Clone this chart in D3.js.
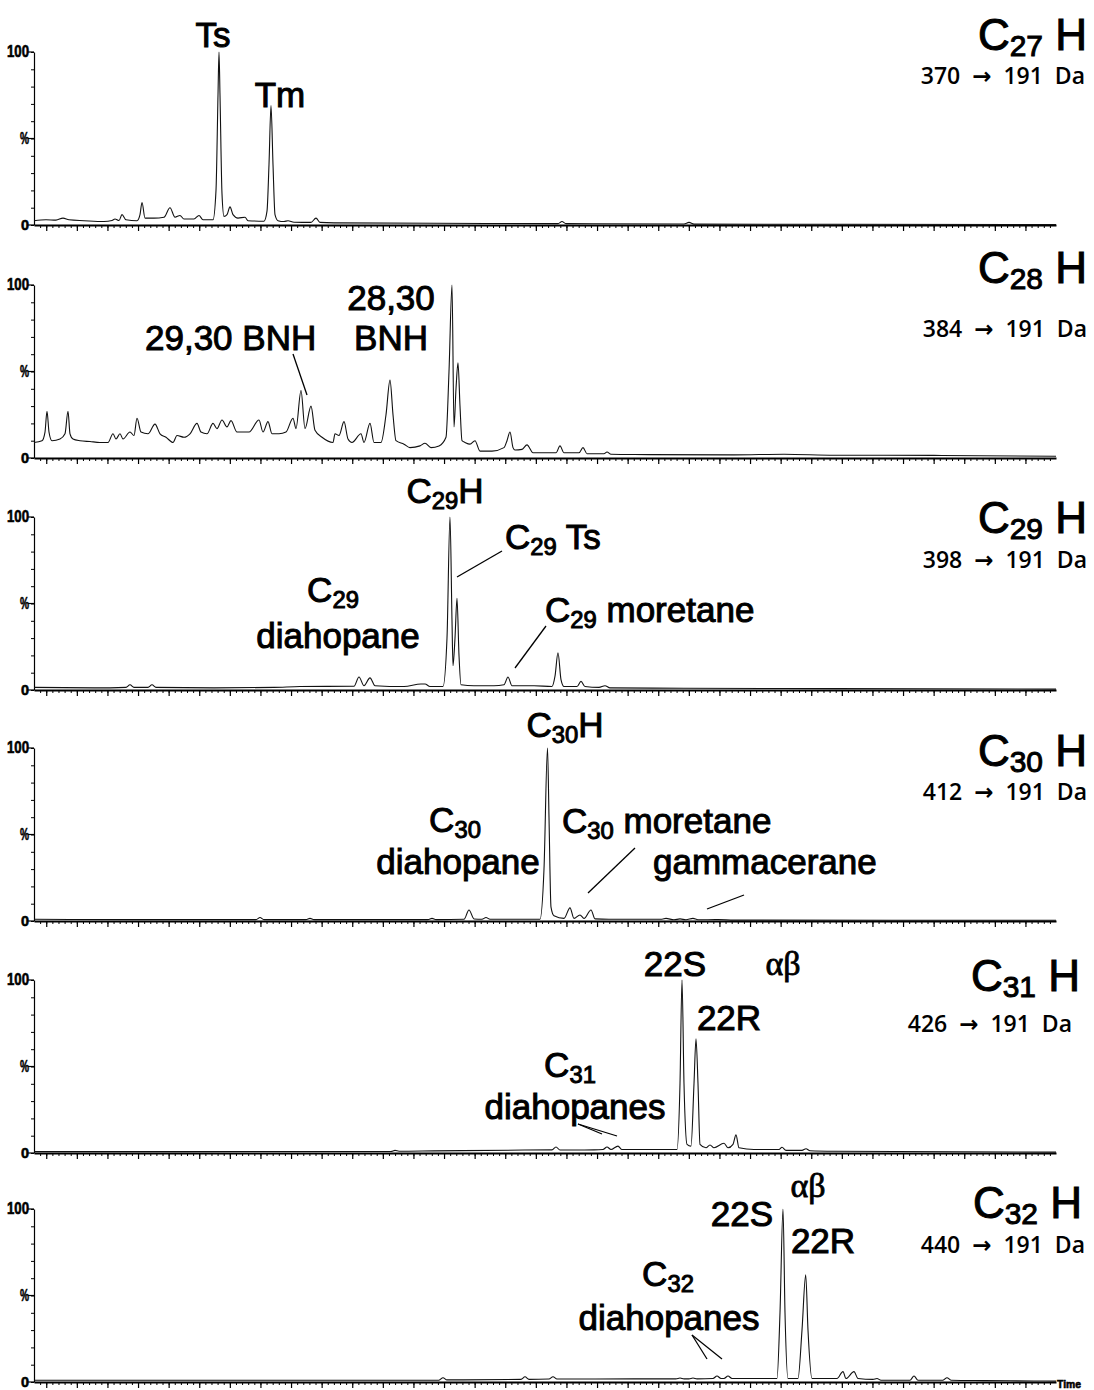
<!DOCTYPE html>
<html><head><meta charset="utf-8">
<script src="https://cdn.jsdelivr.net/npm/d3@7"></script>
<style>
body{margin:0;background:#fff}
svg{display:block}
.lbl{font-family:"Liberation Sans",Arial,sans-serif;fill:#000;stroke:#000;stroke-width:1px}
.mz{font-family:"Open Sans","DejaVu Sans",sans-serif;font-weight:600;fill:#000;white-space:pre}
.axlbl{font-family:"Liberation Sans",Arial,sans-serif;font-weight:bold;fill:#000;stroke:#000;stroke-width:0.6px}
</style>
</head><body>
<svg id="chart" width="1094" height="1390"></svg>
<script>
// Hopane transitions M+ -> m/z 191, one trace per carbon number.
// Each trace: [scan, relative intensity %]
const traceC27 = [[0,2.5],[12,3],[22,2.8],[29,4],[35,3],[50,2.5],[70,2],[78,2.6],[81,3.5],[85,2.6],[88,6],[92,3],[103,2.5],[106,6],[108,13],[111,4],[120,4],[130,4.5],[136,10],[141,4.5],[146,5.5],[150,3.5],[160,3.5],[165,5.5],[169,3],[179,3],[182,20],[184,75],[185,100],[186,75],[188,18],[190,5],[193,6],[196,10.5],[199,6],[204,4],[211,4.5],[214,2.5],[230,2.2],[233,8],[235,35],[237,69],[239,35],[241,6],[244,2.5],[250,2],[254,2.5],[260,1.6],[277,1.5],[282,4],[286,1.5],[300,1.2],[400,1],[524,0.8],[528,2],[532,0.8],[650,0.6],[655,1.5],[660,0.5],[800,0.4],[1022,0.3]];
const traceC28 = [[0,9],[8,10],[11,15],[13,27],[15,15],[18,10],[26,11],[31,14],[34,27],[36,14],[39,11],[46,10],[56,9.5],[66,9],[74,9],[79,14],[82,11],[86,14],[89,11],[96,15],[100,13],[103,23],[107,15],[114,14],[121,19.6],[126,14],[132,12],[139,9],[143,13],[150,12],[156,14],[163,20],[167,15],[173,14],[179,20],[183,17],[188,22],[193,18],[197,21.6],[203,15],[210,15],[215,15],[225,22],[229,15],[234,21],[238,14],[245,14],[252,15],[259,23],[262,17],[267,39],[271,17],[277,30],[281,16],[288,12],[299,9],[301,14],[305,13],[310,21],[314,11],[318,9],[327,14],[330,9],[336,20],[340,9],[347,9],[352,25],[356,45],[359,25],[362,10],[370,8],[376,6],[386,7],[391,8.5],[397,6],[405,7],[412,12],[415,50],[418,100],[420,18],[422,40],[424,55],[426,30],[428,10],[431,9],[436,8],[441,10],[446,4],[458,4],[470,6],[473,10],[476,15],[479,6],[481,4.6],[488,5],[493,7.6],[499,3],[516,3],[522,3],[526,7],[530,3],[545,3],[549,6],[553,2.5],[570,2.5],[573,3.5],[577,2.2],[600,2],[700,1.8],[750,2.2],[800,1.6],[900,1.5],[1022,1]];
const traceC29 = [[0,1.5],[60,1.2],[92,1.5],[96,3],[100,1.5],[114,1.5],[118,3],[122,1.5],[180,1.2],[240,1.5],[266,2],[320,2.2],[325,7.5],[330,2.5],[336,7],[341,2.5],[370,2],[387,3.5],[391,3.5],[396,2],[409,2],[413,30],[416,100],[418,40],[419,14],[421,30],[423,53],[425,20],[427,3],[440,2.5],[460,2.5],[470,3],[474,7.5],[478,2.5],[500,2.5],[518,2],[521,8],[524,21.5],[527,6],[530,2],[543,2],[547,5],[551,2],[565,1.5],[571,2.5],[576,1.2],[650,1],[800,0.8],[1022,0.5]];
const traceC30 = [[0,1],[100,0.8],[222,0.8],[226,2],[230,0.8],[272,0.8],[276,1.5],[280,0.8],[394,0.8],[398,1.5],[402,0.8],[430,1],[435,6.4],[440,1.2],[448,1],[452,2],[456,1],[490,1],[506,1],[510,30],[513.5,100],[515,60],[517,8],[520,3],[530,1.5],[536,7.6],[540,1.5],[546,3.5],[550,1.5],[557,6.4],[561,1.2],[575,1],[628,1],[632,1.5],[640,0.7],[646,1.2],[652,0.7],[659,1.5],[664,0.7],[684,0.8],[700,0.5],[1022,0.4]];
const traceC31 = [[0,0.8],[150,0.8],[357,0.9],[361,1.5],[365,1],[400,1.2],[490,1.7],[518,1.8],[522,3.5],[526,1.7],[560,1.8],[569,2],[573,3.5],[577,2],[584,4],[588,2],[620,2],[643,2],[646,40],[648,100],[650,40],[653,5],[657,4],[660,40],[662,66],[664,40],[666,5],[672,3],[676,4.6],[680,3],[690,5.6],[694,3],[699,5],[702,10.5],[705,3],[720,2],[745,2],[748,3.3],[752,1.5],[768,1.5],[772,2.5],[776,1.3],[800,1],[1022,0.5]];
const traceC32 = [[0,1],[200,1],[405,1],[409,2.5],[413,1.2],[487,1.5],[491,3],[495,1.5],[515,1.7],[519,3],[523,1.7],[600,1.8],[642,1.8],[646,2.3],[650,1.8],[655,1.8],[659,2.3],[663,1.8],[679,2],[683,3.5],[687,2],[690,2],[694,3.5],[698,2],[743,2],[746,40],[749,100],[751,40],[754,2],[764,2],[768,30],[771.7,62],[774,30],[778,2],[803,2],[809,6],[812,2],[820,6],[824,2],[839,1.5],[843,2],[847,1],[876,1],[880,3.5],[884,1],[909,1],[913,2.5],[917,1],[950,0.8],[1000,0.6],[1022,0.5]];

const traces = [traceC27, traceC28, traceC29, traceC30, traceC31, traceC32];
const carbonNumbers = ["27","28","29","30","31","32"];
const parentMasses = ["370","384","398","412","426","440"];
const daughterMass = "191";
const yTickLabels = ["100","%","0"];
const scanRange = [0, 1022];

const svg = d3.select("#chart");
const panelTops = [52, 285, 517, 748, 980, 1209];
const panelH = 173;

const x = d3.scaleLinear().domain(scanRange).range([34, 1056]);
const minorStep = 6.12;
const nMinor = Math.floor((scanRange[1] - scanRange[0]) / minorStep);
const minorTicks = d3.range(1, nMinor + 1).map(i => i * minorStep);
const majorTicks = minorTicks.filter((d, i) => (i + 1 - 7) % 5 === 0);

const line = d3.line().x(d => x(d[0])).curve(d3.curveMonotoneX);

traces.forEach((tr, i) => {
  const top = panelTops[i];
  const y = d3.scaleLinear().domain([0, 100]).range([top + panelH, top]);
  const g = svg.append("g");

  // y axis with 10 % ticks
  g.append("g").attr("transform", `translate(${x(0)},0)`)
    .call(d3.axisLeft(y).tickValues(d3.range(0, 101, 10)).tickSize(3).tickSizeOuter(0).tickFormat(""))
    .call(a => a.selectAll("line").attr("stroke", "#000").attr("stroke-width", 1))
    .call(a => a.select(".domain").attr("stroke", "#000").attr("stroke-width", 1.2));
  g.selectAll(".ylong").data([0, 50, 100]).join("line")
    .attr("x1", x(0) - 6).attr("x2", x(0)).attr("y1", d => y(d)).attr("y2", d => y(d))
    .attr("stroke", "#000").attr("stroke-width", 1.2);

  // x axis: minor and major ticks, no labels
  g.append("g").attr("transform", `translate(0,${y(0)})`)
    .call(d3.axisBottom(x).tickValues(minorTicks).tickSize(3).tickSizeOuter(0).tickFormat(""))
    .call(a => a.selectAll("line").attr("stroke", "#000").attr("stroke-width", 1))
    .call(a => a.select(".domain").attr("stroke", "#000").attr("stroke-width", 1.8));
  g.append("g").attr("transform", `translate(0,${y(0)})`)
    .call(d3.axisBottom(x).tickValues(majorTicks).tickSize(6).tickFormat(""))
    .call(a => a.selectAll("line").attr("stroke", "#000").attr("stroke-width", 1.2))
    .call(a => a.select(".domain").remove());

  // y labels
  const yl = [[yTickLabels[0], 100, 22, 16], [yTickLabels[1], 50, 9, 16], [yTickLabels[2], 0, 8, 15]];
  yl.forEach(([t, v, w, fs]) => {
    g.append("text").attr("class", "axlbl")
      .attr("x", x(0) - 5).attr("y", y(v)).attr("dy", "0.33em")
      .attr("text-anchor", "end").attr("font-size", fs)
      .attr("textLength", w).attr("lengthAdjust", "spacingAndGlyphs")
      .text(t);
  });

  // trace
  g.append("path").datum(tr)
    .attr("d", line.y(d => y(d[1])))
    .attr("fill", "none").attr("stroke", "#111").attr("stroke-width", 1.1);
});

// text helpers
function rich(parts, px, py, size, anchor, cls, subShift) {
  const sh = size * (subShift || 0.18);
  const t = svg.append("text").attr("class", cls || "lbl")
    .attr("x", px).attr("y", py).attr("font-size", size)
    .attr("text-anchor", anchor || "start");
  let shifted = false;
  parts.forEach(p => {
    const sub = Array.isArray(p);
    const s = t.append("tspan").text(sub ? p[0] : p);
    if (sub) { s.attr("font-size", size * 0.68).attr("dy", sh); shifted = true; }
    else if (shifted) { s.attr("dy", -sh); shifted = false; }
  });
  return t;
}
function leader(x1, y1, x2, y2) {
  svg.append("line").attr("x1", x1).attr("y1", y1).attr("x2", x2).attr("y2", y2)
    .attr("stroke", "#000").attr("stroke-width", 1.3);
}
function greek(s, px, py) {
  svg.append("text").attr("x", px).attr("y", py).attr("font-size", 34)
    .attr("text-anchor", "middle").attr("stroke", "#000").attr("stroke-width", 0.8)
    .attr("font-family", "'Liberation Serif','DejaVu Serif',serif").text(s);
}

// transition titles on the right
const titleBase = [50, 283, 533, 766, 991, 1218];
const mzBase = [84, 337, 568, 800, 1032, 1253];
const titleRight = [1087, 1087, 1087, 1087, 1080, 1082];
const mzRight = [1085, 1087, 1087, 1087, 1072, 1085];
carbonNumbers.forEach((c, i) => {
  rich(["C", [c], " H"], titleRight[i], titleBase[i], 44, "end", null, 0.14).attr("stroke-width", 0.8);
  svg.append("text").attr("class", "mz").attr("x", mzRight[i]).attr("y", mzBase[i])
    .attr("font-size", 23).attr("text-anchor", "end")
    .text(`${parentMasses[i]}  \u2192  ${daughterMass}  Da`);
});

const F = 35;
// C27
rich(["Ts"], 213, 47, F, "middle");
rich(["Tm"], 280, 107, F, "middle");
// C28
rich(["29,30 BNH"], 145, 350, F, "start");
rich(["28,30"], 391, 310, F, "middle");
rich(["BNH"], 391, 350, F, "middle");
leader(293, 354, 307, 395);
// C29
rich(["C", ["29"], "H"], 445, 503, F, "middle");
rich(["C", ["29"], " Ts"], 505, 549, F, "start");
leader(502, 551, 457, 577);
rich(["C", ["29"]], 333, 602, F, "middle");
rich(["diahopane"], 338, 648, F, "middle");
rich(["C", ["29"], " moretane"], 545, 622, F, "start");
leader(546, 626, 515, 668);
// C30
rich(["C", ["30"], "H"], 565, 737, F, "middle");
rich(["C", ["30"]], 455, 832, F, "middle");
rich(["diahopane"], 458, 874, F, "middle");
rich(["C", ["30"], " moretane"], 562, 833, F, "start");
leader(635, 848, 588, 893);
rich(["gammacerane"], 653, 874, F, "start");
leader(744, 895, 707, 909);
// C31
rich(["22S"], 675, 976, F, "middle");
greek("\u03b1\u03b2", 783, 975);
rich(["22R"], 729, 1030, F, "middle");
rich(["C", ["31"]], 570, 1077, F, "middle");
rich(["diahopanes"], 575, 1119, F, "middle");
leader(578, 1124, 602, 1134);
leader(578, 1124, 617, 1136);
// C32
greek("\u03b1\u03b2", 808, 1197);
rich(["22S"], 742, 1226, F, "middle");
rich(["22R"], 823, 1253, F, "middle");
rich(["C", ["32"]], 668, 1286, F, "middle");
rich(["diahopanes"], 669, 1330, F, "middle");
leader(692, 1335, 707, 1359);
leader(692, 1335, 722, 1359);

svg.append("text").attr("class", "axlbl").attr("x", 1057).attr("y", 1388)
  .attr("font-size", 11).attr("textLength", 24).attr("lengthAdjust", "spacingAndGlyphs").text("Time");
</script>
</body></html>
